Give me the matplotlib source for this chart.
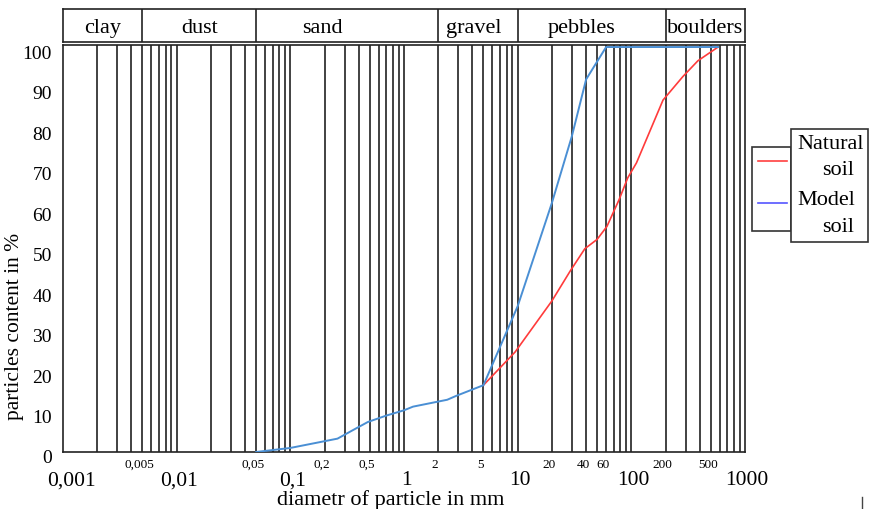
import matplotlib
matplotlib.use("Agg")
import matplotlib.pyplot as plt
import matplotlib.transforms as mtransforms
from matplotlib.patches import Rectangle
from matplotlib.lines import Line2D
from matplotlib.ticker import FixedLocator, FixedFormatter, NullFormatter

plt.rcParams['font.family'] = ['Liberation Serif', 'DejaVu Serif']

# ---------------- data ----------------
model_x = [0.05, 0.1, 0.26, 0.35, 0.48, 0.7, 1.0, 1.2, 2.4, 2.9, 5, 10, 20, 30, 40, 60, 580]
model_y = [0, 1, 3.3, 5.3, 7.4, 9, 10.3, 11.2, 12.9, 13.9, 16.5, 36, 61.5, 78, 92, 100, 100]

natural_x = [5, 9.5, 20, 29, 39, 50, 61, 78, 93, 111, 190, 284, 385, 580]
natural_y = [16.5, 24.7, 37.3, 44.7, 50.2, 52.5, 55.7, 62.3, 67.7, 71.4, 86.9, 92.7, 96.6, 100]

major_ticks = [0.001, 0.01, 0.1, 1, 10, 100, 1000]
major_labels = ["0,001", "0,01", "0,1", "1", "10", "100", "1000"]
minor_ticks = [0.005, 0.05, 0.2, 0.5, 2, 5, 20, 40, 60, 200, 500]
minor_labels = ["0,005", "0,05", "0,2", "0,5", "2", "5", "20", "40", "60", "200", "500"]
y_ticks = [0, 10, 20, 30, 40, 50, 60, 70, 80, 90, 100]

class_names = ["clay", "dust", "sand", "gravel", "pebbles", "boulders"]
class_bounds = [0.001, 0.005, 0.05, 2, 10, 200, 1000]
class_label_shift = [0, 0, -25, -4, -10, 0]  # pixel nudges of header texts

legend_names = [("Natural", "soil"), ("Model", "soil")]

# ---------------- figure ----------------
W, H = 871, 510
fig = plt.figure(figsize=(W / 100, H / 100), dpi=100)

def fx(p):
    return p / W

def fy(p):
    return 1 - p / H

L, R, T, B = 63, 745, 46, 453
ax = fig.add_axes([fx(L), fy(B), fx(R) - fx(L), fy(T) - fy(B)])
hax = fig.add_axes([fx(L), fy(43), fx(R) - fx(L), fy(10) - fy(43)], sharex=ax)

GRID = '#333333'
ax.set_xscale('log')
ax.set_xlim(0.001, 1000)
ax.set_ylim(0, 100.5)

# vertical grid lines at 1..9 x each decade
grid_pos = []
for e in range(-3, 3):
    for m in range(1, 10):
        v = m * 10.0 ** e
        if 0.001 < v < 1000:
            grid_pos.append(v)
ax.vlines(grid_pos, 0, 1, transform=ax.get_xaxis_transform(), colors=GRID, lw=1.3, zorder=1)

ax.plot(natural_x, natural_y, color='#ff3b3b', lw=1.2, zorder=3)
ax.plot(model_x, model_y, color='#4a8fd4', lw=1.4, zorder=3)

for s in ax.spines.values():
    s.set_color('#222222')
    s.set_linewidth(1.2)

ax.xaxis.set_major_locator(FixedLocator(major_ticks))
ax.xaxis.set_major_formatter(FixedFormatter(major_labels))
ax.xaxis.set_minor_locator(FixedLocator(minor_ticks))
ax.xaxis.set_minor_formatter(FixedFormatter(minor_labels))
ax.tick_params(axis='x', which='major', length=0, pad=13, labelsize=15.5)
ax.tick_params(axis='x', which='minor', length=0, pad=4, labelsize=9.5)
ax.set_yticks(y_ticks)
ax.set_yticklabels([str(v) for v in y_ticks])
ax.tick_params(axis='y', length=0, pad=8, labelsize=14)

fig.canvas.draw()
for lab in ax.get_yticklabels():
    lab.set_transform(lab.get_transform() + mtransforms.ScaledTranslation(0, -4 / 100, fig.dpi_scale_trans))
for i, lab in enumerate(ax.xaxis.get_majorticklabels()):
    dx = 8 if i == 0 else 2
    lab.set_transform(lab.get_transform() + mtransforms.ScaledTranslation(dx / 100, 0, fig.dpi_scale_trans))
for lab in ax.xaxis.get_minorticklabels():
    lab.set_transform(lab.get_transform() + mtransforms.ScaledTranslation(-3 / 100, 0, fig.dpi_scale_trans))

# ---------------- header ----------------
hax.set_ylim(0, 1)
hax.tick_params(axis='both', which='both', length=0, labelbottom=False, labelleft=False)
for s in hax.spines.values():
    s.set_color('#222222')
    s.set_linewidth(1.2)
hax.vlines(class_bounds[1:-1], 0, 1, colors='#222222', lw=1.2)
for i, name in enumerate(class_names):
    c = (class_bounds[i] * class_bounds[i + 1]) ** 0.5
    t = hax.text(c, 0.45, name, ha='center', va='center', fontsize=16)
    t.set_transform(hax.transData + mtransforms.ScaledTranslation(class_label_shift[i] / 100, 0, fig.dpi_scale_trans))

# ---------------- axis titles ----------------
fig.text(fx(15), fy(326), "particles content in %", rotation=90, ha='center', va='center', fontsize=15.5)
fig.text(fx(391), fy(500), "diametr of particle in mm", ha='center', va='center', fontsize=16)

# ---------------- legend ----------------
BOX = '#333333'
fig.add_artist(Rectangle((fx(752), fy(232)), fx(791) - fx(752), fy(148) - fy(232),
                         transform=fig.transFigure, fill=False, edgecolor=BOX, lw=1.2))
fig.add_artist(Rectangle((fx(791), fy(243)), fx(868) - fx(791), fy(130) - fy(243),
                         transform=fig.transFigure, facecolor='white', edgecolor=BOX, lw=1.2))
fig.add_artist(Line2D([fx(758), fx(787)], [fy(162), fy(162)], transform=fig.transFigure, color='#ff4040', lw=1.2))
fig.add_artist(Line2D([fx(758), fx(787)], [fy(204), fy(204)], transform=fig.transFigure, color='#5555ff', lw=1.2))
baselines = [(149, 175), (205, 232)]
for (a, b), (y1, y2) in zip(legend_names, baselines):
    fig.text(fx(797), fy(y1), a, ha='left', va='baseline', fontsize=16)
    fig.text(fx(822), fy(y2), b, ha='left', va='baseline', fontsize=16)

# stray mark at the bottom right
fig.add_artist(Line2D([fx(862), fx(862)], [fy(498), fy(510)], transform=fig.transFigure, color='#444444', lw=1.0))

fig.savefig("out.png", dpi=100)
